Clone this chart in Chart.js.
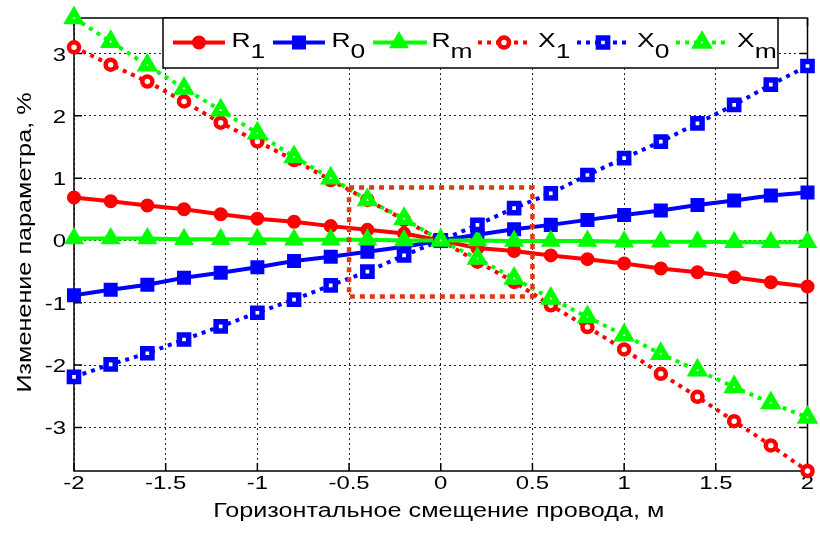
<!DOCTYPE html>
<html>
<head>
<meta charset="utf-8">
<script src="https://cdn.jsdelivr.net/npm/chart.js@4.4.0/dist/chart.umd.min.js"></script>
<style>
  html, body { margin: 0; padding: 0; background: #fff; }
  #wrap { width: 820px; height: 533px; }
</style>
</head>
<body>
<div id="wrap"><canvas id="c" width="820" height="533"></canvas></div>
<script>
// Horizontal wire offset, m
const offsets = [-2, -1.8, -1.6, -1.4, -1.2, -1, -0.8, -0.6, -0.4, -0.2, 0,
                 0.2, 0.4, 0.6, 0.8, 1, 1.2, 1.4, 1.6, 1.8, 2];

// Parameter change, %
const R1 = [0.69, 0.63, 0.56, 0.50, 0.42, 0.35, 0.30, 0.23, 0.17, 0.11, 0,
            -0.12, -0.17, -0.24, -0.30, -0.37, -0.45, -0.51, -0.59, -0.67, -0.74];
const R0 = [-0.88, -0.79, -0.71, -0.60, -0.52, -0.43, -0.33, -0.26, -0.18, -0.10, 0,
            0.09, 0.18, 0.25, 0.33, 0.41, 0.48, 0.57, 0.64, 0.72, 0.77];
const Rm = [0.03, 0.03, 0.03, 0.02, 0.02, 0.02, 0.01, 0.01, 0.01, 0.00, 0,
            0.00, -0.01, -0.01, -0.01, -0.02, -0.02, -0.02, -0.03, -0.03, -0.03];
const X1 = [3.10, 2.82, 2.55, 2.23, 1.89, 1.59, 1.29, 0.97, 0.65, 0.33, 0,
            -0.34, -0.665, -1.04, -1.39, -1.75, -2.14, -2.51, -2.90, -3.29, -3.70];
const X0 = [-2.19, -1.99, -1.81, -1.59, -1.38, -1.16, -0.95, -0.72, -0.50, -0.24, 0,
            0.25, 0.52, 0.755, 1.05, 1.32, 1.585, 1.88, 2.175, 2.50, 2.80];
const Xm = [3.57, 3.19, 2.81, 2.44, 2.09, 1.72, 1.34, 1.00, 0.65, 0.35, 0,
            -0.29, -0.61, -0.93, -1.23, -1.52, -1.82, -2.085, -2.35, -2.61, -2.84];

// Highlighted region around zero offset
const zoneX = [-0.5, 0.5, 0.5, -0.5, -0.5];
const zoneY = [0.85, 0.85, -0.9, -0.9, 0.85];

// Axis ticks
const xTicks = [-2, -1.5, -1, -0.5, 0, 0.5, 1, 1.5, 2];
const xTickLabels = ['-2', '-1.5', '-1', '-0.5', '0', '0.5', '1', '1.5', '2'];
const yTicks = [-3, -2, -1, 0, 1, 2, 3];
const yTickLabels = ['-3', '-2', '-1', '0', '1', '2', '3'];

const xTitle = 'Горизонтальное смещение провода, м';
const yTitle = 'Изменение параметра, %';

const FONT = '"Liberation Sans", Arial, sans-serif';
const STRETCH = 1.26;           // wide lettering
const RED = '#ff0000', BLUE = '#0000ff', GREEN = '#00ff00', ZONE = '#dc3a12';
const DOT = [4, 5];

const pts = ys => offsets.map((x, i) => ({ x: x, y: ys[i] }));

// Series styles
const series = [
  { base: 'R', sub: '1', data: R1, color: RED,   dotted: false, style: 'circle',   r: 6,   bw: 2,   filled: true,  order: 6 },
  { base: 'R', sub: '0', data: R0, color: BLUE,  dotted: false, style: 'rect',     r: 8.5, bw: 2,   filled: true,  order: 5 },
  { base: 'R', sub: 'm', data: Rm, color: GREEN, dotted: false, style: 'triangle', r: 9.5, bw: 2,   filled: true,  order: 4 },
  { base: 'X', sub: '1', data: X1, color: RED,   dotted: true,  style: 'circle',   r: 5,   bw: 4.5, filled: false, order: 3 },
  { base: 'X', sub: '0', data: X0, color: BLUE,  dotted: true,  style: 'rect',     r: 6.5, bw: 5.5, filled: false, order: 2 },
  { base: 'X', sub: 'm', data: Xm, color: GREEN, dotted: true,  style: 'triangle', r: 7,   bw: 5.5, filled: false, order: 1 }
];

const datasets = series.map(s => ({
  label: s.base + s.sub,
  data: pts(s.data),
  showLine: true,
  borderColor: s.color,
  borderWidth: 4,
  borderDash: s.dotted ? DOT : [],
  borderCapStyle: 'butt',
  pointStyle: s.style,
  pointRadius: s.r,
  pointBorderWidth: s.bw,
  pointBorderColor: s.color,
  pointBackgroundColor: s.filled ? s.color : '#ffffff',
  clip: false,
  order: s.order
}));

datasets.push({
  label: 'zone',
  data: zoneX.map((x, i) => ({ x: x, y: zoneY[i] })),
  showLine: true,
  borderColor: ZONE,
  borderWidth: 4.5,
  borderDash: [5, 5],
  borderCapStyle: 'butt',
  pointRadius: 0,
  clip: false,
  order: 0
});

function wideText(ctx, str, x, y, align, rot) {
  ctx.save();
  ctx.translate(x, y);
  if (rot) ctx.rotate(rot);
  ctx.scale(STRETCH, 1);
  ctx.textAlign = align;
  ctx.textBaseline = 'alphabetic';
  ctx.fillText(str, 0, 0);
  ctx.restore();
}

// Axes box, inward tick marks, tick labels and axis titles
const framePlugin = {
  id: 'frame',
  beforeDatasetsDraw(chart) {
    const { ctx, chartArea: a, scales } = chart;
    const tl = 8;
    ctx.save();
    ctx.strokeStyle = '#000';
    ctx.lineWidth = 1.5;
    ctx.setLineDash([]);
    ctx.strokeRect(a.left, a.top, a.right - a.left, a.bottom - a.top);
    ctx.beginPath();
    xTicks.forEach(v => {
      const px = scales.x.getPixelForValue(v);
      ctx.moveTo(px, a.bottom); ctx.lineTo(px, a.bottom - tl);
      ctx.moveTo(px, a.top); ctx.lineTo(px, a.top + tl);
    });
    yTicks.forEach(v => {
      const py = scales.y.getPixelForValue(v);
      ctx.moveTo(a.left, py); ctx.lineTo(a.left + tl, py);
      ctx.moveTo(a.right, py); ctx.lineTo(a.right - tl, py);
    });
    ctx.stroke();

    ctx.fillStyle = '#000';
    ctx.font = '19px ' + FONT;
    xTicks.forEach((v, i) => {
      wideText(ctx, xTickLabels[i], scales.x.getPixelForValue(v), a.bottom + 17.5, 'center');
    });
    yTicks.forEach((v, i) => {
      wideText(ctx, yTickLabels[i], a.left - 8, scales.y.getPixelForValue(v) + 7, 'right');
    });
    ctx.font = '20px ' + FONT;
    wideText(ctx, xTitle, (a.left + a.right) / 2 - 2, a.bottom + 46, 'center');
    wideText(ctx, yTitle, 30.5, (a.top + a.bottom) / 2 - 2, 'center', -Math.PI / 2);
    ctx.restore();
  }
};

// Legend box with subscripted labels
const legendPlugin = {
  id: 'subLegend',
  afterDatasetsDraw(chart) {
    const ctx = chart.ctx;
    const box = { left: 163, top: 18, right: 778, bottom: 68 };
    const midY = 42.5, baseY = 46.7, subY = 58.3;
    const lineStart = [173, 273, 373, 478, 577, 676];
    const lineLen = [52, 52, 54, 49, 49, 49];
    const textX = [231.5, 331.5, 431.5, 538, 637, 737];
    ctx.save();
    ctx.fillStyle = '#fff';
    ctx.fillRect(box.left, box.top, box.right - box.left, box.bottom - box.top);
    ctx.strokeStyle = '#000';
    ctx.lineWidth = 1.5;
    ctx.setLineDash([]);
    ctx.strokeRect(box.left, box.top, box.right - box.left, box.bottom - box.top);
    ctx.font = '21px ' + FONT;
    series.forEach((s, i) => {
      const x = lineStart[i];
      ctx.strokeStyle = s.color;
      ctx.lineWidth = 4;
      ctx.lineCap = 'butt';
      ctx.setLineDash(s.dotted ? DOT : []);
      ctx.beginPath();
      ctx.moveTo(x, midY); ctx.lineTo(x + lineLen[i], midY);
      ctx.stroke();
      ctx.setLineDash([]);
      ctx.fillStyle = s.filled ? s.color : '#fff';
      ctx.strokeStyle = s.color;
      ctx.lineWidth = s.bw;
      Chart.helpers.drawPoint(ctx, { pointStyle: s.style, radius: s.r, rotation: 0, borderWidth: s.bw }, x + 26, midY);
      ctx.fillStyle = '#000';
      wideText(ctx, s.base, textX[i], baseY, 'left');
      const bw = ctx.measureText(s.base).width * STRETCH;
      wideText(ctx, s.sub, textX[i] + bw, subY, 'left');
    });
    ctx.restore();
  }
};

new Chart(document.getElementById('c'), {
  type: 'scatter',
  data: { datasets: datasets },
  options: {
    responsive: false,
    devicePixelRatio: 1,
    animation: false,
    events: [],
    layout: { padding: { top: 18, right: 9, bottom: 0, left: 0 } },
    plugins: { legend: { display: false }, tooltip: { enabled: false } },
    scales: {
      x: {
        type: 'linear',
        min: -2,
        max: 2,
        afterBuildTicks: s => { s.ticks = xTicks.map(v => ({ value: v })); },
        afterFit: s => { s.height = 62; },
        ticks: { display: false },
        grid: { color: '#222', lineWidth: 1, drawTicks: false },
        border: { display: false, dash: [2, 3] }
      },
      y: {
        type: 'linear',
        bounds: 'data',
        grace: 0,
        afterBuildTicks: s => { s.ticks = yTicks.map(v => ({ value: v })); },
        afterFit: s => { s.width = 74; },
        ticks: { display: false },
        grid: { color: '#222', lineWidth: 1, drawTicks: false },
        border: { display: false, dash: [2, 3] }
      }
    }
  },
  plugins: [framePlugin, legendPlugin]
});
</script>
</body>
</html>
